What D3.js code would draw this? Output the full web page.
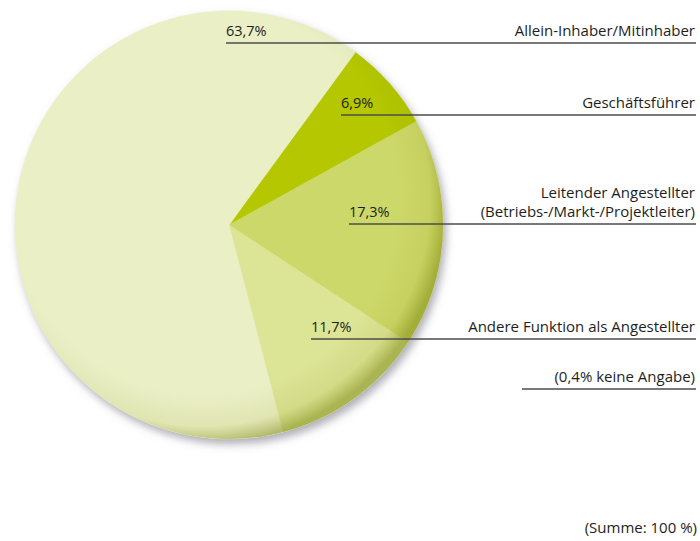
<!DOCTYPE html>
<html>
<head>
<meta charset="utf-8">
<script src="https://cdn.jsdelivr.net/npm/d3@7"></script>
<style>
  html, body { margin: 0; padding: 0; background: #fff; }
  #chart { width: 700px; height: 541px; overflow: hidden; }
  text { font-family: "Open Sans", "Noto Sans", sans-serif; fill: #1e1e1e; }
</style>
</head>
<body>
<div id="chart"></div>
<script>
// data
const categories = ["Geschäftsführer", "Leitender Angestellter", "Andere Funktion als Angestellter", "Allein-Inhaber/Mitinhaber", "keine Angabe"];
const values = [6.9, 17.3, 11.7, 63.7, 0.4];
const valueLabels = ["6,9%", "17,3%", "11,7%", "63,7%", "0,4%"];
const sliceColors = ["#b4c700", "#cdd86a", "#dce496", "#ebefc6", "#ebefc6"];

// legend rows (right side), top to bottom
const legendRows = [
  { idx: 3, lines: ["Allein-Inhaber/Mitinhaber"], y: 43, pctX: 226 },
  { idx: 0, lines: ["Geschäftsführer"], y: 115, pctX: 341 },
  { idx: 1, lines: ["Leitender Angestellter", "(Betriebs-/Markt-/Projektleiter)"], y: 224, pctX: 349 },
  { idx: 2, lines: ["Andere Funktion als Angestellter"], y: 339, pctX: 311 }
];

const width = 700, height = 541;
const cx = 229, cy = 225, radius = 214;

const svg = d3.select("#chart").append("svg")
    .attr("width", width)
    .attr("height", height)
    .attr("viewBox", `0 0 ${width} ${height}`);

const defs = svg.append("defs");

const shadow = defs.append("filter").attr("id", "shadow")
    .attr("x", "-10%").attr("y", "-10%").attr("width", "125%").attr("height", "125%");
shadow.append("feDropShadow")
    .attr("dx", 3).attr("dy", 5).attr("stdDeviation", 4)
    .attr("flood-color", "#6b6b78").attr("flood-opacity", 0.55);

// darker rim, heavier toward lower right
const rim = defs.append("radialGradient").attr("id", "rim")
    .attr("cx", "0.44").attr("cy", "0.44").attr("r", "0.57");
rim.append("stop").attr("offset", "0.80").attr("stop-color", "#7d8a00").attr("stop-opacity", 0);
rim.append("stop").attr("offset", "0.93").attr("stop-color", "#7d8a00").attr("stop-opacity", 0.10);
rim.append("stop").attr("offset", "1").attr("stop-color", "#6f7a00").attr("stop-opacity", 0.45);

const pieG = svg.append("g").attr("transform", `translate(${cx},${cy})`);

const startDeg = 36.2;
const pie = d3.pie().value(d => d).sort(null)
    .startAngle(startDeg * Math.PI / 180)
    .endAngle((startDeg + 360) * Math.PI / 180);
const arc = d3.arc().innerRadius(0).outerRadius(radius);

// disc with shadow underneath
pieG.append("circle").attr("r", radius).attr("fill", "#ebefc6").attr("filter", "url(#shadow)");

pieG.selectAll("path.slice")
    .data(pie(values))
    .join("path")
    .attr("class", "slice")
    .attr("d", arc)
    .attr("fill", (d, i) => sliceColors[i])
    .attr("stroke", (d, i) => sliceColors[i])
    .attr("stroke-width", 0.5);

pieG.append("circle").attr("r", radius).attr("fill", "url(#rim)");

// leader lines and labels
const rightX = 696;
const rows = svg.append("g");
legendRows.forEach(r => {
  rows.append("line")
      .attr("x1", r.pctX).attr("x2", rightX)
      .attr("y1", r.y).attr("y2", r.y)
      .attr("stroke", "#4d4d4d").attr("stroke-width", 1.3);
  rows.append("text")
      .attr("x", r.pctX).attr("y", r.y - 7)
      .style("font-size", "14.5px")
      .text(valueLabels[r.idx]);
  r.lines.forEach((ln, k) => {
    rows.append("text")
        .attr("x", rightX - 1).attr("text-anchor", "end")
        .attr("y", r.y - 7 - (r.lines.length - 1 - k) * 19)
        .style("font-size", "15px")
        .text(ln);
  });
});

// note for the missing share
rows.append("line")
    .attr("x1", 522).attr("x2", rightX)
    .attr("y1", 389).attr("y2", 389)
    .attr("stroke", "#4d4d4d").attr("stroke-width", 1.3);
rows.append("text")
    .attr("x", rightX - 1).attr("y", 382).attr("text-anchor", "end")
    .style("font-size", "15px")
    .text(`(${valueLabels[4]} keine Angabe)`);

const total = d3.sum(values);
svg.append("text")
    .attr("x", 697).attr("y", 533).attr("text-anchor", "end")
    .style("font-size", "15px")
    .text(`(Summe: ${total.toFixed(0)} %)`);
</script>
</body>
</html>
